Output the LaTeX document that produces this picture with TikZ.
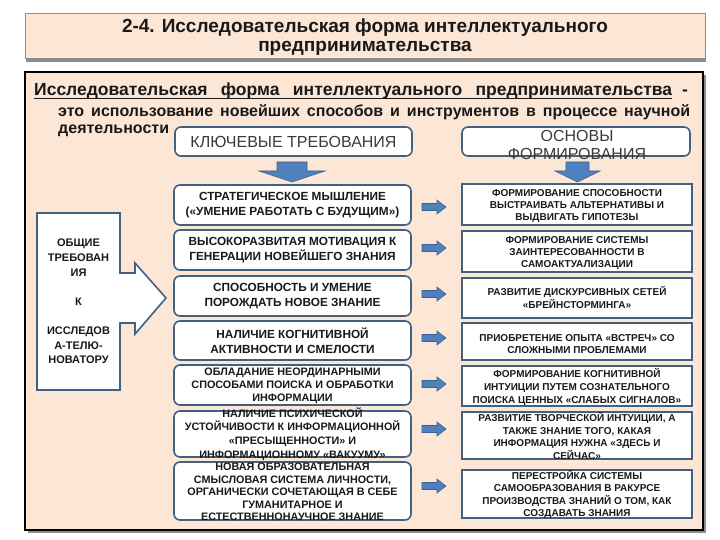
\documentclass[tikz,border=0pt]{standalone}
\usepackage{fontspec}
\setmainfont{Liberation Sans}
\usetikzlibrary{shadows}
\definecolor{peach}{RGB}{252,230,213}
\definecolor{boxc}{RGB}{66,96,128}
\definecolor{arrowc}{RGB}{79,129,189}
\definecolor{arrowd}{RGB}{58,96,145}
\definecolor{txtc}{RGB}{25,25,25}
\begin{document}
\begin{tikzpicture}[x=1pt,y=-1pt,
  midbox/.style={draw=boxc, line width=1.6pt, fill=white, rounded corners=6pt, minimum width=237pt, inner sep=0pt},
  rbox/.style={draw=boxc, line width=1.6pt, fill=white, minimum width=230pt, inner sep=0pt},
  midtxt/.style={font=\fontsize{11.8}{15}\selectfont\bfseries, align=center, text=txtc, inner sep=0pt},
  midtxts/.style={font=\fontsize{10.8}{13.2}\selectfont\bfseries, align=center, text=txtc, inner sep=0pt},
  rtxt/.style={font=\fontsize{10}{12.3}\selectfont\bfseries, align=center, text=txtc, inner sep=0pt},
  hdrtxt/.style={font=\fontsize{16}{17.5}\selectfont, align=center, text=txtc!85, inner sep=0pt},
  blockarrow/.style={fill=arrowc, draw=arrowd, line width=0.6pt},
  smallarrow/.pic={\filldraw[blockarrow] (-12,-3.5) -- (3,-3.5) -- (3,-7) -- (12,0) -- (3,7) -- (3,3.5) -- (-12,3.5) -- cycle;}
]
\useasboundingbox (0,0) rectangle (720,540);
\fill[white] (0,0) rectangle (720,540);

% title
\node[fill=peach, draw=black!45, line width=0.6pt, minimum width=680pt, minimum height=45pt,
      drop shadow={shadow xshift=1pt, shadow yshift=-4pt, opacity=0.45, fill=black}] (title) at (365,35.5) {};
\node[font=\fontsize{19}{19.5}\selectfont\bfseries, align=center, text=txtc, inner sep=0pt] (titlet) at (365,37)
  {2-4. Исследовательская форма интеллектуального\\предпринимательства};

% main frame
\node[fill=peach, draw=black, line width=2pt, minimum width=678pt, minimum height=458pt,
      drop shadow={shadow xshift=3pt, shadow yshift=-3pt, opacity=0.45, fill=black}] (frame) at (364,301) {};

% paragraph
\node[anchor=base west, inner sep=0pt, font=\fontsize{17.5}{19}\selectfont\bfseries, text=txtc] (p1) at (34,96)
  {\makebox[638pt][s]{Исследовательская форма интеллектуального предпринимательства}};
\draw[line width=1.2pt, txtc] ([yshift=-2.6pt]p1.base west) -- ([yshift=-2.6pt]p1.base east);
\node[anchor=base west, inner sep=0pt, font=\fontsize{17.5}{19}\selectfont\bfseries, text=txtc] (p1d) at (682,96) {-};
\node[anchor=base west, inner sep=0pt, font=\fontsize{16}{17}\selectfont\bfseries, text=txtc] (p2) at (58,117)
  {\makebox[632pt][s]{это использование новейших способов и инструментов в процессе научной}};
\node[anchor=base west, inner sep=0pt, font=\fontsize{16}{17}\selectfont\bfseries, text=txtc] (p3) at (58,134)
  {деятельности};

% headers
\node[midbox, minimum height=29pt] (h1) at (293.5,141.5) {};
\node[hdrtxt] (h1t) at (293.5,142) {КЛЮЧЕВЫЕ ТРЕБОВАНИЯ};
\node[midbox, minimum width=228pt, minimum height=29pt] (h2) at (576,141.5) {};
\node[hdrtxt] (h2t) at (577,145) {ОСНОВЫ\\ФОРМИРОВАНИЯ};

% down arrows
\filldraw[blockarrow] (277,162) -- (307,162) -- (307,171) -- (325,171) -- (292,182) -- (259,171) -- (277,171) -- cycle;
\filldraw[blockarrow] (566,162) -- (589,162) -- (589,171) -- (600,171) -- (577.5,182) -- (555,171) -- (566,171) -- cycle;

% left callout
\filldraw[fill=white, draw=boxc, line width=1.6pt]
  (37,213) -- (120,213) -- (120,273) -- (135,273) -- (135,263) -- (166,298) -- (135,334) -- (135,323) -- (120,323) -- (120,390) -- (37,390) -- cycle;
\node[midtxts, font=\fontsize{11}{14.6}\selectfont\bfseries] (lt) at (78.5,301.5)
  {ОБЩИЕ\\ТРЕБОВАН\\ИЯ\\[14.6pt]К\\[14.6pt]ИССЛЕДОВ\\А-ТЕЛЮ-\\НОВАТОРУ};

% middle boxes
\node[midbox, minimum height=40pt] (m1) at (292.5,205) {};
\node[midtxt] (m1t) at (292.5,205.5) {СТРАТЕГИЧЕСКОЕ МЫШЛЕНИЕ\\(«УМЕНИЕ РАБОТАТЬ С БУДУЩИМ»)};
\node[midbox, minimum height=40pt] (m2) at (292.5,250) {};
\node[midtxt] (m2t) at (292.5,250.5) {ВЫСОКОРАЗВИТАЯ МОТИВАЦИЯ К\\ГЕНЕРАЦИИ НОВЕЙШЕГО ЗНАНИЯ};
\node[midbox, minimum height=40pt] (m3) at (292.5,296) {};
\node[midtxt] (m3t) at (292.5,296) {СПОСОБНОСТЬ И УМЕНИЕ\\ПОРОЖДАТЬ НОВОЕ ЗНАНИЕ};
\node[midbox, minimum height=39pt] (m4) at (292.5,340.5) {};
\node[midtxt] (m4t) at (292.5,341) {НАЛИЧИЕ КОГНИТИВНОЙ\\АКТИВНОСТИ И СМЕЛОСТИ};
\node[midbox, minimum height=40pt] (m5) at (292.5,385) {};
\node[midtxts] (m5t) at (292.5,386) {ОБЛАДАНИЕ НЕОРДИНАРНЫМИ\\СПОСОБАМИ ПОИСКА И ОБРАБОТКИ\\ИНФОРМАЦИИ};
\node[midbox, minimum height=46pt] (m6) at (292.5,434) {};
\node[midtxts, font=\fontsize{10.8}{13.7}\selectfont\bfseries] (m6t) at (292.5,434) {НАЛИЧИЕ ПСИХИЧЕСКОЙ\\УСТОЙЧИВОСТИ К ИНФОРМАЦИОННОЙ\\«ПРЕСЫЩЕННОСТИ» И\\ИНФОРМАЦИОННОМУ «ВАКУУМУ»};
\node[midbox, minimum height=58pt] (m7) at (292.5,491) {};
\node[midtxts, font=\fontsize{10.8}{12.6}\selectfont\bfseries] (m7t) at (292.5,492) {НОВАЯ ОБРАЗОВАТЕЛЬНАЯ\\СМЫСЛОВАЯ СИСТЕМА ЛИЧНОСТИ,\\ОРГАНИЧЕСКИ СОЧЕТАЮЩАЯ В СЕБЕ\\ГУМАНИТАРНОЕ И\\ЕСТЕСТВЕННОНАУЧНОЕ ЗНАНИЕ};

% small arrows
\foreach \yy in {207,248,294,338,384,429,486} \pic at (434,\yy) {smallarrow};

% right boxes
\node[rbox, minimum height=41pt] (r1) at (577,204.5) {};
\node[rtxt] (r1t) at (577,206) {ФОРМИРОВАНИЕ СПОСОБНОСТИ\\ВЫСТРАИВАТЬ АЛЬТЕРНАТИВЫ И\\ВЫДВИГАТЬ ГИПОТЕЗЫ};
\node[rbox, minimum height=41pt] (r2) at (577,251.5) {};
\node[rtxt] (r2t) at (577,253) {ФОРМИРОВАНИЕ СИСТЕМЫ\\ЗАИНТЕРЕСОВАННОСТИ В\\САМОАКТУАЛИЗАЦИИ};
\node[rbox, minimum height=40pt] (r3) at (577,298) {};
\node[rtxt] (r3t) at (577,297.5) {РАЗВИТИЕ ДИСКУРСИВНЫХ СЕТЕЙ\\«БРЕЙНСТОРМИНГА»};
\node[rbox, minimum height=37pt] (r4) at (577,341.5) {};
\node[rtxt] (r4t) at (577,344) {ПРИОБРЕТЕНИЕ ОПЫТА «ВСТРЕЧ» СО\\СЛОЖНЫМИ ПРОБЛЕМАМИ};
\node[rbox, minimum height=40pt] (r5) at (577,386) {};
\node[rtxt, font=\fontsize{10}{13}\selectfont\bfseries] (r5t) at (577,387) {ФОРМИРОВАНИЕ КОГНИТИВНОЙ\\ИНТУИЦИИ ПУТЕМ СОЗНАТЕЛЬНОГО\\ПОИСКА ЦЕННЫХ «СЛАБЫХ СИГНАЛОВ»};
\node[rbox, minimum height=47pt] (r6) at (577,435.5) {};
\node[rtxt, font=\fontsize{10}{12.7}\selectfont\bfseries] (r6t) at (577,436) {РАЗВИТИЕ ТВОРЧЕСКОЙ ИНТУИЦИИ, А\\ТАКЖЕ ЗНАНИЕ ТОГО, КАКАЯ\\ИНФОРМАЦИЯ НУЖНА «ЗДЕСЬ И\\СЕЙЧАС»};
\node[rbox, minimum height=48pt] (r7) at (577,494) {};
\node[rtxt] (r7t) at (577,494.5) {ПЕРЕСТРОЙКА СИСТЕМЫ\\САМООБРАЗОВАНИЯ В РАКУРСЕ\\ПРОИЗВОДСТВА ЗНАНИЙ О ТОМ, КАК\\СОЗДАВАТЬ ЗНАНИЯ};
\end{tikzpicture}
\end{document}
